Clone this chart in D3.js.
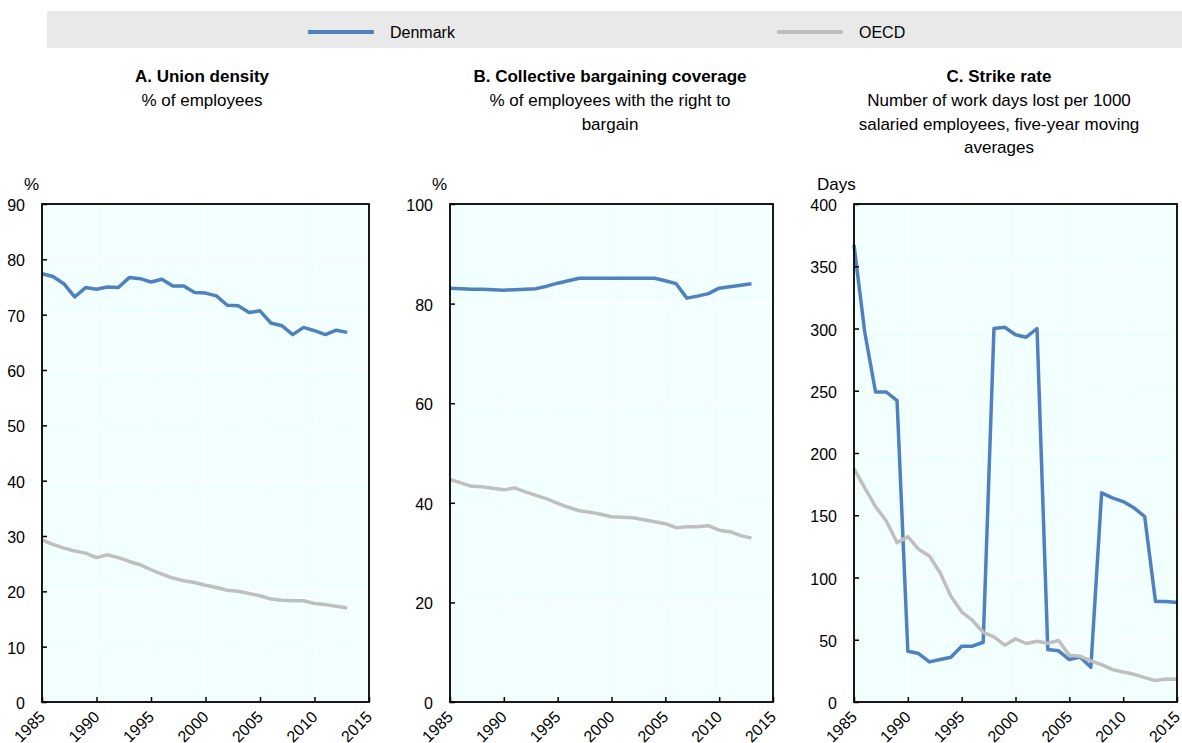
<!DOCTYPE html>
<html>
<head>
<meta charset="utf-8">
<script src="https://cdn.jsdelivr.net/npm/d3@7"></script>
<style>
  body { margin: 0; background: #fff; }
  svg { font-family: "Liberation Sans", Arial, sans-serif; }
</style>
</head>
<body>
<div id="chart"></div>
<script>
// data
var series = ["Denmark", "OECD"];
var colors = ["#4f81bd", "#bfbfbf"];

var yearsA = d3.range(1985, 2014);
var denmarkUnion = [77.4, 76.9, 75.6, 73.2, 74.9, 74.6, 75.0, 74.9, 76.7, 76.5, 75.9, 76.4, 75.2, 75.2, 74.0,
  73.9, 73.4, 71.7, 71.6, 70.4, 70.7, 68.5, 68.0, 66.4, 67.7, 67.1, 66.4, 67.2, 66.8];
var oecdUnion = [29.3, 28.5, 27.8, 27.3, 26.9, 26.1, 26.6, 26.1, 25.4, 24.8, 23.9, 23.1, 22.4, 21.9, 21.6,
  21.1, 20.7, 20.2, 20.0, 19.6, 19.2, 18.6, 18.4, 18.3, 18.3, 17.8, 17.6, 17.3, 17.0];

var yearsB = d3.range(1985, 2014);
var denmarkCoverage = [83.1, 83.0, 82.9, 82.9, 82.8, 82.7, 82.8, 82.9, 83.0, 83.5, 84.1, 84.6, 85.1, 85.1, 85.1,
  85.1, 85.1, 85.1, 85.1, 85.1, 84.6, 84.0, 81.1, 81.5, 82.0, 83.1, 83.4, 83.7, 84.0];
var oecdCoverage = [44.7, 44.0, 43.3, 43.2, 42.9, 42.6, 43.0, 42.2, 41.5, 40.8, 39.9, 39.1, 38.4, 38.1, 37.7,
  37.2, 37.1, 37.0, 36.6, 36.2, 35.8, 35.0, 35.2, 35.2, 35.4, 34.5, 34.2, 33.4, 32.9];

var yearsC = d3.range(1985, 2016);
var denmarkStrike = [367, 297, 249, 249, 242, 40.8, 38.9, 32.2, 34.1, 36.0, 44.8, 44.8, 48.0, 300, 301,
  295, 293, 300, 42.1, 41.1, 34.1, 36.2, 27.9, 168, 164, 161, 156, 149, 80.8, 80.8, 80.0];
var oecdStrike = [187.5, 172, 157, 145.4, 128, 132.8, 122.6, 117.3, 103.8, 85, 72.4, 65.5, 56, 52.3, 45.6,
  50.7, 47, 48.8, 47.2, 49.4, 37.6, 36.8, 33, 30, 26, 24.1, 22.3, 19.6, 17.2, 18.5, 18.2];

var panels = [
  { title: "A. Union density", sub: ["% of employees"], unit: "%", max: 90, step: 10,
    years: yearsA, values: [denmarkUnion, oecdUnion], cx: 202, left: 42, right: 369 },
  { title: "B. Collective bargaining coverage", sub: ["% of employees with the right to", "bargain"], unit: "%", max: 100, step: 20,
    years: yearsB, values: [denmarkCoverage, oecdCoverage], cx: 610, left: 450, right: 773 },
  { title: "C. Strike rate", sub: ["Number of work days lost per 1000", "salaried employees, five-year moving", "averages"], unit: "Days", max: 400, step: 50,
    years: yearsC, values: [denmarkStrike, oecdStrike], cx: 999, left: 854, right: 1177 }
];

var W = 1182, H = 743, plotTop = 204, plotBottom = 702;

var svg = d3.select("#chart").append("svg")
  .attr("width", W)
  .attr("height", H);

// legend
svg.append("rect")
  .attr("x", 47).attr("y", 11).attr("width", W - 47).attr("height", 37)
  .attr("fill", "#e9e9e9");
var legX = [308, 777];
series.forEach(function(s, i) {
  svg.append("line")
    .attr("x1", legX[i]).attr("x2", legX[i] + 66)
    .attr("y1", 32).attr("y2", 32)
    .attr("stroke", colors[i]).attr("stroke-width", 4);
  svg.append("text")
    .attr("x", legX[i] + 82).attr("y", 38)
    .attr("font-size", 16)
    .text(s);
});

panels.forEach(function(p) {
  var x = d3.scaleLinear().domain([1985, 2015]).range([p.left, p.right]);
  var y = d3.scaleLinear().domain([0, p.max]).range([plotBottom, plotTop]);
  var g = svg.append("g");

  // titles
  g.append("text")
    .attr("x", p.cx).attr("y", 82)
    .attr("text-anchor", "middle")
    .attr("font-size", 17).attr("font-weight", "bold")
    .text(p.title);
  p.sub.forEach(function(t, i) {
    g.append("text")
      .attr("x", p.cx).attr("y", 106 + i * 23.5)
      .attr("text-anchor", "middle")
      .attr("font-size", 17)
      .text(t);
  });
  g.append("text")
    .attr("x", p.unit == "%" ? p.left - 18 : p.left - 37).attr("y", 190)
    .attr("font-size", 17)
    .text(p.unit);

  // plot area
  g.append("rect")
    .attr("x", p.left).attr("y", plotTop)
    .attr("width", p.right - p.left).attr("height", plotBottom - plotTop)
    .attr("fill", "#f2ffff");

  var yTicks = d3.range(0, p.max + 1, p.step);
  var xTicks = d3.range(1985, 2016, 5);

  // gridlines
  g.selectAll(".hgrid").data(yTicks).enter().append("line")
    .attr("x1", p.left).attr("x2", p.right)
    .attr("y1", d => y(d)).attr("y2", d => y(d))
    .attr("stroke", "#fff").attr("stroke-width", 1.2);
  g.selectAll(".vgrid").data(xTicks).enter().append("line")
    .attr("x1", d => x(d)).attr("x2", d => x(d))
    .attr("y1", plotTop).attr("y2", plotBottom)
    .attr("stroke", "#fff").attr("stroke-width", 1.2);

  // lines
  p.values.forEach(function(vals, i) {
    var pts = p.years.map((yr, j) => [yr, vals[j]]);
    g.append("path")
      .datum(pts)
      .attr("fill", "none")
      .attr("stroke", colors[i])
      .attr("stroke-width", 3.5)
      .attr("stroke-linejoin", "round")
      .attr("d", d3.line().x(d => x(d[0])).y(d => y(d[1])));
  });

  // frame
  g.append("rect")
    .attr("x", p.left).attr("y", plotTop)
    .attr("width", p.right - p.left).attr("height", plotBottom - plotTop)
    .attr("fill", "none").attr("stroke", "#000").attr("stroke-width", 1.8);

  // axes with inward ticks
  var ya = g.append("g")
    .attr("transform", "translate(" + p.left + ",0)")
    .call(d3.axisRight(y).tickValues(yTicks).tickSize(5).tickFormat(""));
  ya.select(".domain").remove();
  ya.selectAll("line").attr("stroke", "#000").attr("stroke-width", 1.5);
  g.selectAll(".ylab").data(yTicks).enter().append("text")
    .attr("x", p.left - 17).attr("y", d => y(d) + 7)
    .attr("text-anchor", "end")
    .attr("font-size", 16)
    .text(d => d);

  var xa = g.append("g")
    .attr("transform", "translate(0," + plotBottom + ")")
    .call(d3.axisTop(x).tickValues(xTicks).tickSize(5).tickFormat(""));
  xa.select(".domain").remove();
  xa.selectAll("line").attr("stroke", "#000").attr("stroke-width", 1.5);
  g.selectAll(".xlab").data(xTicks).enter().append("text")
    .attr("transform", d => "translate(" + (x(d) + 4) + "," + (plotBottom + 16) + ") rotate(-45)")
    .attr("text-anchor", "end")
    .attr("font-size", 16)
    .text(d => d);
});
</script>
</body>
</html>
